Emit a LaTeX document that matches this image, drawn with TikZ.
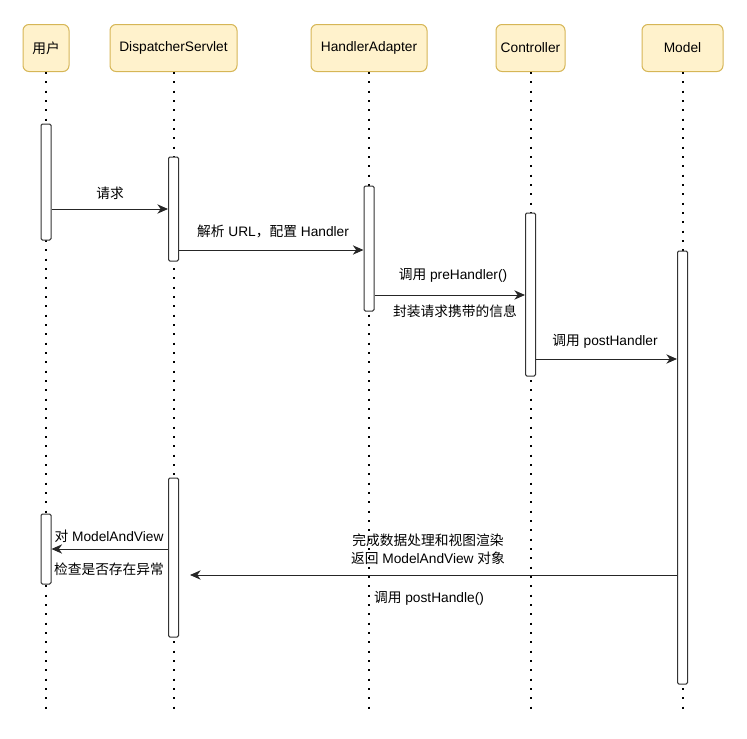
\documentclass[tikz,border=0pt]{standalone}
\usepackage{fontspec}
\setmainfont{Liberation Sans}
\newfontfamily\cjk{Noto Sans CJK SC}
\usepackage{xcolor}
\usepackage{tikz}
\usetikzlibrary{arrows.meta,positioning}

\definecolor{headfill}{HTML}{FFF2CC}
\definecolor{headdraw}{HTML}{D6B656}

\begin{document}
\begin{tikzpicture}[
    x=0.75pt, y=-0.75pt,
    font=\fontsize{10.3}{13.5}\selectfont,
    header/.style={rectangle, draw=headdraw, fill=headfill, rounded corners=4.5pt, minimum height=35.25pt, inner sep=0pt, line width=0.75pt},
    lifeline/.style={line width=1.5pt, dash pattern=on 1.5pt off 5.5pt},
    bar/.style={rectangle, draw=black!80, fill=white, rounded corners=1pt, minimum width=7.5pt, inner sep=0pt, line width=0.75pt},
    msg/.style={draw=black!85, line width=0.75pt, -{Stealth[length=8pt,width=7pt,inset=2.5pt]}},
    msglabel/.style={inner sep=0pt, align=center}
]
\useasboundingbox (0,0) rectangle (747,739);

% Headers
\node[header, minimum width=34.5pt] (user) at (46,48) {{\cjk 用户}};
\node[header, minimum width=95.25pt] (ds) at (173.5,48) {DispatcherServlet};
\node[header, minimum width=87pt] (ha) at (369,48) {HandlerAdapter};
\node[header, minimum width=51.75pt] (ctrl) at (530.5,48) {Controller};
\node[header, minimum width=60.75pt] (model) at (682.5,48) {Model};

% Lifelines
\foreach \n in {user,ds,ha,ctrl,model}
    \draw[lifeline] (\n.south) -- (\n.south |- 0,715);

% Activation bars
\node[bar, minimum height=87pt] (user1) at (user |- 0,182) {};
\node[bar, minimum height=78pt] (ds1) at (ds |- 0,209) {};
\node[bar, minimum height=93.75pt] (ha1) at (ha |- 0,248.5) {};
\node[bar, minimum height=122.25pt] (ctrl1) at (ctrl |- 0,294.5) {};
\node[bar, minimum height=324.75pt] (model1) at (model |- 0,467.5) {};
\node[bar, minimum height=119.25pt] (ds2) at (ds |- 0,557.5) {};
\node[bar, minimum height=52.5pt] (user2) at (user |- 0,549) {};

% Messages
\draw[msg] (user1.east |- 0,209) -- (ds1.west |- 0,209);
\draw[msg] (ds1.east |- 0,250) -- (ha1.west |- 0,250);
\draw[msg] (ha1.east |- 0,295) -- (ctrl1.west |- 0,295);
\draw[msg] (ctrl1.east |- 0,359) -- (model1.west |- 0,359);
\coordinate (ret) at (190,575);
\draw[msg] (model1.west |- ret) -- (ret);
\draw[msg] (ds2.west |- 0,549) -- (user2.east |- 0,549);

% Labels
\node[msglabel] (l1) at (110,193) {{\cjk 请求}};
\node[msglabel] (l2) at (273,231) {{\cjk 解析} URL{\cjk ，配置} Handler};
\node[msglabel] (l3) at (453,275) {{\cjk 调用} preHandler()};
\node[msglabel] (l3b) at (455,311) {{\cjk 封装请求携带的信息}};
\node[msglabel] (l4) at (605,341) {{\cjk 调用} postHandler};
\node[msglabel] (l5) at (428,549) {{\cjk 完成数据处理和视图渲染}\\{\cjk 返回} ModelAndView {\cjk 对象}};
\node[msglabel] (l5b) at (429,598) {{\cjk 调用} postHandle()};
\node[msglabel] (l6) at (109,536) {{\cjk 对} ModelAndView};
\node[msglabel] (l6b) at (109,569) {{\cjk 检查是否存在异常}};

\end{tikzpicture}
\end{document}
